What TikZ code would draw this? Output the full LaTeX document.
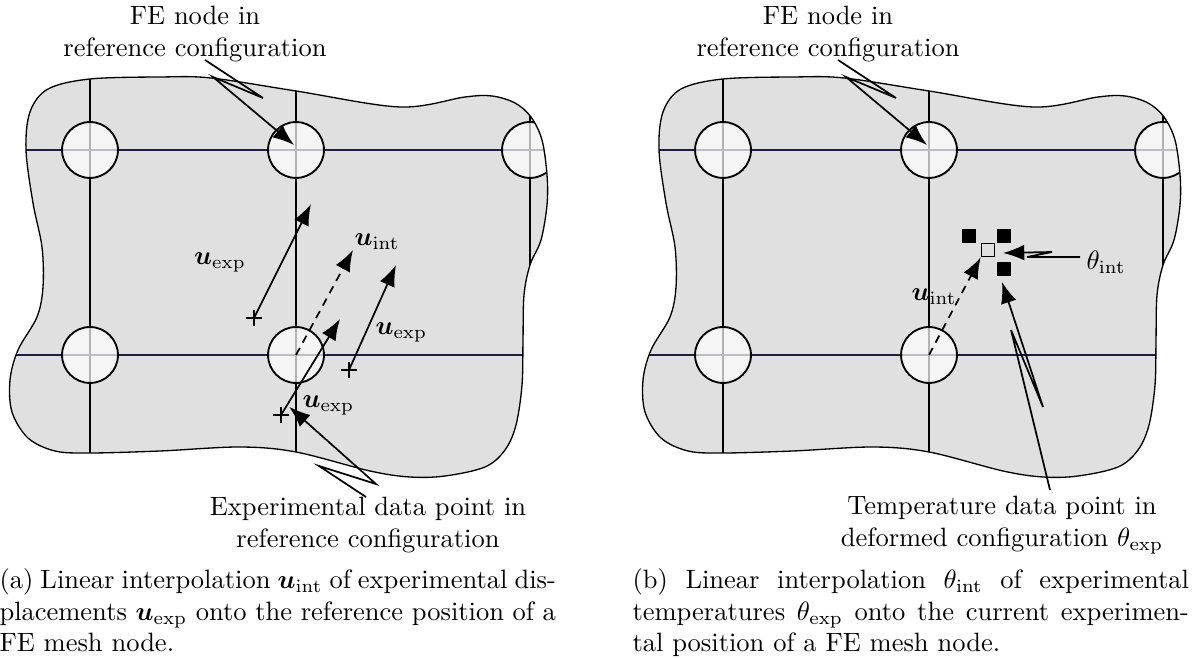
\documentclass[tikz,border=0pt]{standalone}
\usepackage{amsthm,amssymb,amsmath}
\usepackage{tikz}
\usetikzlibrary{arrows.meta}
\pgfdeclarelayer{bg}
\pgfsetlayers{bg,main}
\definecolor{blobgray}{gray}{0.88}
\definecolor{gridnavy}{rgb}{0.12,0.12,0.24}
\tikzset{
        blobpath/.style={insert path={plot[smooth cycle, tension=0.55] coordinates {(26,150) (30,112) (48,89) (90,79) (160,77) (211,78) (296,91) (400,107) (465,97) (492,96) (515,103) (531,117) (542,140) (547,175) (547,205) (541,240) (530,265) (524,295) (523,340) (522,385) (516,425) (505,450) (485,467) (445,476) (410,477) (370,471) (296,452) (240,447) (160,451) (90,453) (55,451) (28,438) (12,412) (10,380) (18,350) (37,317) (43,287) (42,247) (33,203)}}},
        fenode/.style={circle, draw, line width=0.7pt, fill=white, fill opacity=0.7, inner sep=0pt, minimum size=21.1pt},
        datapt/.style={inner sep=0pt, minimum size=5.8pt},
        vec/.style={-{Latex[length=8pt,width=6pt]}, line width=0.65pt},
        dvec/.style={vec, dash pattern=on 3pt off 2.3pt},
        sqfull/.style={fill=black, inner sep=0pt, minimum size=5.3pt},
        sqopen/.style={draw=black, line width=0.5pt, inner sep=0pt, minimum size=5pt},
        capt/.style={anchor=north west, inner sep=0pt, text width=210pt, align=justify}
}
\begin{document}
\begin{tikzpicture}[x=0.3774pt, y=-0.3774pt]
        \useasboundingbox (0,0) rectangle (1195,659);
        \begin{pgfonlayer}{bg}
                \foreach \sx/\p in {0/a,633/b} {
                        \begin{scope}[shift={(\sx,0)}]
                                \fill[blobgray, blobpath];
                                \begin{scope}
                                        \clip[blobpath];
                                        \draw[line width=0.45pt] (90,60) -- (90,500) (296,60) -- (296,500) (530,60) -- (530,500);
                                        \draw[gridnavy, line width=0.45pt] (0,150) -- (570,150) (0,355) -- (570,355);
                                        \node (c\p1) [fenode] at (90,150) {};
                                        \node (c\p2) [fenode] at (296,150) {};
                                        \node (c\p3) [fenode] at (530,150) {};
                                        \node (c\p4) [fenode] at (90,355) {};
                                        \node (c\p5) [fenode] at (296,355) {};
                                \end{scope}
                                \draw[line width=0.5pt, blobpath];
                        \end{scope}
                }
        \end{pgfonlayer}
        \foreach \sx/\p in {0/a,633/b} {
                \begin{scope}[shift={(\sx,0)}]
                        \node (top\p) [align=center] at (195,34) {FE node in\\reference configuration};
                        \coordinate (ft\p0) at (205,60);
                        \coordinate (ft\p1) at (263,98);
                        \coordinate (ft\p2) at (213,77);
                        \coordinate (ft\p3) at (294,145);
                        \draw[vec] (ft\p0) -- (ft\p1) -- (ft\p2) -- (ft\p3);
                \end{scope}
        }
        \node (pa1) [datapt] at (254,318) {};
        \node (pa2) [datapt] at (349,370) {};
        \node (pa3) [datapt] at (281,415) {};
        \foreach \n in {pa1,pa2,pa3}
                \draw[line width=0.8pt] (\n.north) -- (\n.south) (\n.west) -- (\n.east);
        \coordinate (ta1) at (311,204);
        \coordinate (ta2) at (396,265);
        \coordinate (ta3) at (340,319);
        \coordinate (tint) at (353,250);
        \draw (pa1.center) edge [vec] (ta1);
        \draw (pa2.center) edge [vec] (ta2);
        \draw (pa3.center) edge [vec] (ta3);
        \draw (ca5.center) edge [dvec] (tint);
        \node (ua1) at (220,262) {$\boldsymbol{u}_{\mathrm{exp}}$};
        \node (ui) at (377,242) {$\boldsymbol{u}_{\mathrm{int}}$};
        \node (ua2) [anchor=west, inner sep=0pt] at (375,332) {$\boldsymbol{u}_{\mathrm{exp}}$};
        \node (ua3) [anchor=west, inner sep=0pt] at (302,405) {$\boldsymbol{u}_{\mathrm{exp}}$};
        \node (expa) [align=center] at (368,525) {Experimental data point in\\reference configuration};
        \coordinate (fe0) at (366,497);
        \coordinate (fe1) at (319,466);
        \coordinate (fe2) at (376,484);
        \draw[vec] (fe0) -- (fe1) -- (fe2) -- (pa3.north east);
        \node (sq1) [sqfull] at (969,236) {};
        \node (sq2) [sqfull] at (1004,236) {};
        \node (sq3) [sqfull] at (1004,269) {};
        \node (sqi) [sqopen] at (988,250) {};
        \draw (cb5.center) edge [dvec] (sqi.south west);
        \node (ub) at (934,297) {$\boldsymbol{u}_{\mathrm{int}}$};
        \node (thi) [anchor=west, inner sep=0pt] at (1086,262) {$\theta_{\mathrm{int}}$};
        \coordinate (fi0) at (1080,257);
        \coordinate (fi1) at (1027,257);
        \coordinate (fi2) at (1052,252);
        \coordinate (fi3) at (1003,253);
        \draw[vec] (fi0) -- (fi1) -- (fi2) -- (fi3);
        \node (expb) [align=center] at (1002,525) {Temperature data point in\\deformed configuration $\theta_{\mathrm{exp}}$};
        \coordinate (fd0) at (1050,490);
        \coordinate (fd1) at (1011,330);
        \coordinate (fd2) at (1043,407);
        \coordinate (fd3) at (1002,282);
        \draw[vec] (fd0) -- (fd1) -- (fd2) -- (fd3);
        \node (capa) [capt] at (-1,568) {(a) Linear interpolation $\boldsymbol{u}_{\mathrm{int}}$ of experimental dis-\linebreak placements $\boldsymbol{u}_{\mathrm{exp}}$ onto the reference position of a\linebreak FE mesh node.};
        \node (capb) [capt] at (632,568) {(b) Linear interpolation $\theta_{\mathrm{int}}$ of experimental\linebreak temperatures $\theta_{\mathrm{exp}}$ onto the current experimen-\linebreak tal position of a FE mesh node.};
\end{tikzpicture}
\end{document}
